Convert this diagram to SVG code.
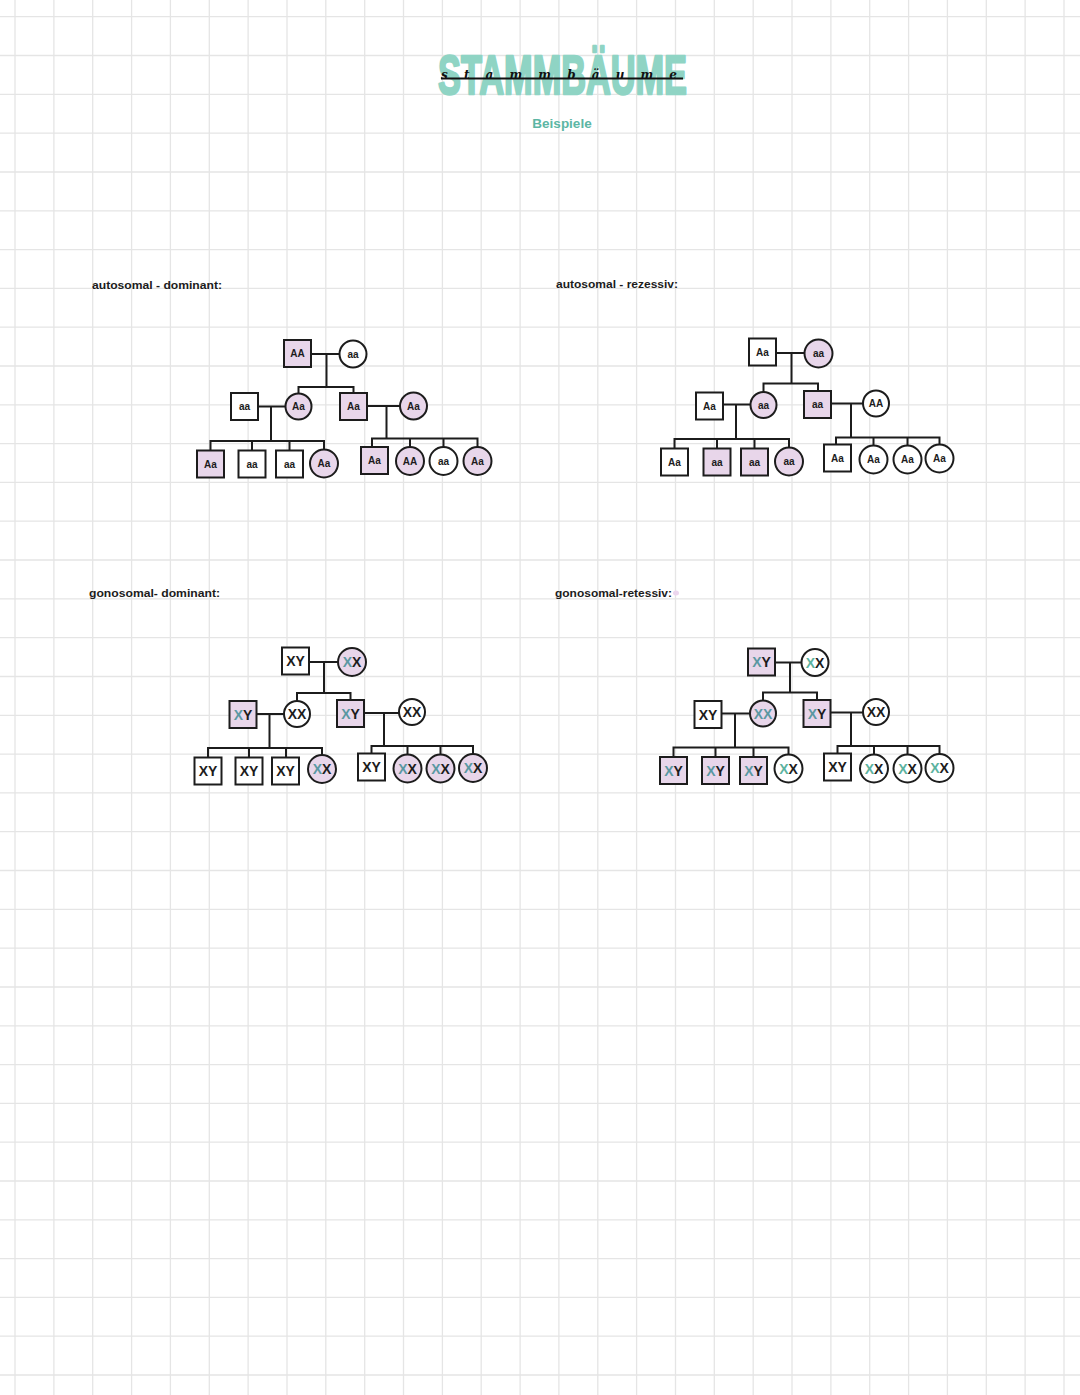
<svg xmlns="http://www.w3.org/2000/svg" width="1080" height="1395" viewBox="0 0 1080 1395">
<style>
.grid{stroke:#e5e5e5;stroke-width:1.3;fill:none}
.ln{stroke:#1c1c1c;stroke-width:2;fill:none;stroke-linecap:square}
.w{fill:#ffffff;stroke:#1c1c1c;stroke-width:2}
.p{fill:#e8d6ea;stroke:#1c1c1c;stroke-width:2}
.g{font-family:"Liberation Sans",Arial,sans-serif;font-size:10px;font-weight:bold;fill:#1c1c1c;text-anchor:middle}
.x{font-family:"Liberation Sans",Arial,sans-serif;font-size:14px;font-weight:bold;fill:#1c1c1c;text-anchor:middle}
.t1{fill:#5a98a2}
.t2{fill:#5cb39f}
.lab{font-family:"Liberation Sans",Arial,sans-serif;font-size:11px;font-weight:bold;fill:#1c1c1c}
</style>
<rect x="0" y="0" width="1080" height="1395" fill="#ffffff"/>
<path class="grid" d="M15,0V1395M53.9,0V1395M92.7,0V1395M131.6,0V1395M170.4,0V1395M209.3,0V1395M248.1,0V1395M287,0V1395M325.8,0V1395M364.7,0V1395M403.5,0V1395M442.4,0V1395M481.2,0V1395M520.1,0V1395M558.9,0V1395M597.8,0V1395M636.6,0V1395M675.5,0V1395M714.3,0V1395M753.2,0V1395M792,0V1395M830.9,0V1395M869.7,0V1395M908.6,0V1395M947.4,0V1395M986.3,0V1395M1025.1,0V1395M1064,0V1395
M0,16.7H1080M0,55.5H1080M0,94.3H1080M0,133.1H1080M0,172H1080M0,210.8H1080M0,249.6H1080M0,288.4H1080M0,327.2H1080M0,366H1080M0,404.8H1080M0,443.6H1080M0,482.4H1080M0,521.2H1080M0,560H1080M0,598.9H1080M0,637.7H1080M0,676.5H1080M0,715.3H1080M0,754.1H1080M0,792.9H1080M0,831.7H1080M0,870.5H1080M0,909.3H1080M0,948.1H1080M0,987H1080M0,1025.8H1080M0,1064.6H1080M0,1103.4H1080M0,1142.2H1080M0,1181H1080M0,1219.8H1080M0,1258.6H1080M0,1297.4H1080M0,1336.2H1080M0,1375H1080"/>

<g id="title">
<text x="438" y="94" textLength="249" lengthAdjust="spacingAndGlyphs" font-family="Liberation Sans, Arial, sans-serif" font-size="55" font-weight="bold" fill="#8fd4c4" stroke="#8fd4c4" stroke-width="2.5" stroke-linejoin="round">STAMMBÄUME</text>
<path d="M441,78.5 H683" stroke="#111" stroke-width="1.8" fill="none"/>
<text x="441" y="79" textLength="236" lengthAdjust="spacing" font-family="DejaVu Serif, serif" font-style="italic" font-weight="bold" font-size="12" fill="#111">stammbäume</text>
<text x="562" y="128" text-anchor="middle" font-family="Liberation Sans, Arial, sans-serif" font-size="13.5" font-weight="bold" fill="#5cb6a4">Beispiele</text>
</g>

<g id="labels">
<text class="lab" x="92" y="289" textLength="130" lengthAdjust="spacingAndGlyphs">autosomal - dominant:</text>
<text class="lab" x="556" y="288" textLength="122" lengthAdjust="spacingAndGlyphs">autosomal - rezessiv:</text>
<text class="lab" x="89" y="597" textLength="131" lengthAdjust="spacingAndGlyphs">gonosomal- dominant:</text>
<text class="lab" x="555" y="597" textLength="117" lengthAdjust="spacingAndGlyphs">gonosomal-retessiv:</text>
<ellipse cx="676" cy="593" rx="3" ry="2.5" fill="#ecd6ee"/>
</g>

<g id="connectors">
<path class="ln" d="M311,354H339.5M326.5,354V387M300,387H353.5M298.5,387V393.5M353.5,387V393"/>
<path class="ln" d="M258,406.5H285.5M271,406.5V441M210.5,441H324M210.5,441V450.5M252,441V450.5M289.5,441V450.5M324,441V449.5"/>
<path class="ln" d="M367,406H400M386.5,406V438.5M372,438.5H477.5M372,438.5V447M410,438.5V447M443.5,438.5V447M477.5,438.5V447"/>
<path class="ln" d="M776,353H804.5M791.5,353V383.5M763.5,383.5H818M763.5,383.5V392M818,383.5V391"/>
<path class="ln" d="M723,404.5H750.5M736,404.5V439M674.5,439H789M674.5,439V448.5M717,439V448.5M754.5,439V448.5M789,439V447.5"/>
<path class="ln" d="M831,403.5H863M851,403.5V437.5M836,437.5H939.5M836,437.5V444.5M873.5,437.5V445.5M907.5,437.5V445.5M939.5,437.5V444.5"/>
<path class="ln" d="M309,662H338M324,662V693M297,693H350.5M297,693V701M350.5,693V700"/>
<path class="ln" d="M256.5,714H284M269.5,714V748M208,748H322M208,748V757.5M249,748V757.5M286,748V757.5M322,748V755"/>
<path class="ln" d="M364,713H399M384,713V746M371.5,746H473M371.5,746V753.5M407.5,746V754.5M440.5,746V754.5M473,746V754"/>
<path class="ln" d="M775,662.5H801.5M790,662.5V692.5M763,692.5H817M763,692.5V700.5M817,692.5V700"/>
<path class="ln" d="M721.5,713.5H750M735,713.5V747.5M673.5,747.5H788.5M673.5,747.5V757M715.5,747.5V757M753.5,747.5V757M788.5,747.5V754.5"/>
<path class="ln" d="M830.5,712.5H863M851,712.5V746M837.5,746H939.5M837.5,746V753.5M874,746V754.5M907.5,746V754.5M939.5,746V754"/>
</g>

<g id="ad-g1m"><rect class="p" x="284" y="340" width="27" height="27"/><text class="g" x="297.5" y="357">AA</text></g>
<g id="ad-g1f"><circle class="w" cx="353" cy="354" r="13.5"/><text class="g" x="353" y="357.5">aa</text></g>
<g id="ad-g2m1"><rect class="w" x="231" y="393" width="27" height="27"/><text class="g" x="244.5" y="410">aa</text></g>
<g id="ad-g2f1"><circle class="p" cx="298.5" cy="406.5" r="13"/><text class="g" x="298.5" y="410">Aa</text></g>
<g id="ad-g2m2"><rect class="p" x="340" y="393" width="27" height="27"/><text class="g" x="353.5" y="410">Aa</text></g>
<g id="ad-g2f2"><circle class="p" cx="413.5" cy="406" r="13.5"/><text class="g" x="413.5" y="409.5">Aa</text></g>
<g id="ad-c1"><rect class="p" x="197" y="450.5" width="27" height="27"/><text class="g" x="210.5" y="467.5">Aa</text></g>
<g id="ad-c2"><rect class="w" x="238.5" y="450.5" width="27" height="27"/><text class="g" x="252" y="467.5">aa</text></g>
<g id="ad-c3"><rect class="w" x="276" y="450.5" width="27" height="27"/><text class="g" x="289.5" y="467.5">aa</text></g>
<g id="ad-c4"><circle class="p" cx="324" cy="463.5" r="14"/><text class="g" x="324" y="467">Aa</text></g>
<g id="ad-c5"><rect class="p" x="361" y="447" width="27" height="27"/><text class="g" x="374.5" y="464">Aa</text></g>
<g id="ad-c6"><circle class="p" cx="410" cy="461" r="14"/><text class="g" x="410" y="464.5">AA</text></g>
<g id="ad-c7"><circle class="w" cx="443.5" cy="461" r="14"/><text class="g" x="443.5" y="464.5">aa</text></g>
<g id="ad-c8"><circle class="p" cx="477.5" cy="461" r="14"/><text class="g" x="477.5" y="464.5">Aa</text></g>

<g id="ar-g1m"><rect class="w" x="749" y="338.5" width="27" height="27"/><text class="g" x="762.5" y="355.5">Aa</text></g>
<g id="ar-g1f"><circle class="p" cx="818.5" cy="353.5" r="14"/><text class="g" x="818.5" y="357">aa</text></g>
<g id="ar-g2m1"><rect class="w" x="696" y="392.5" width="27" height="27"/><text class="g" x="709.5" y="409.5">Aa</text></g>
<g id="ar-g2f1"><circle class="p" cx="763.5" cy="405" r="13"/><text class="g" x="763.5" y="408.5">aa</text></g>
<g id="ar-g2m2"><rect class="p" x="804" y="391" width="27" height="27"/><text class="g" x="817.5" y="408">aa</text></g>
<g id="ar-g2f2"><circle class="w" cx="876" cy="403.5" r="13"/><text class="g" x="876" y="407">AA</text></g>
<g id="ar-c1"><rect class="w" x="661" y="448.5" width="27" height="27"/><text class="g" x="674.5" y="465.5">Aa</text></g>
<g id="ar-c2"><rect class="p" x="703.5" y="448.5" width="27" height="27"/><text class="g" x="717" y="465.5">aa</text></g>
<g id="ar-c3"><rect class="p" x="741" y="448.5" width="27" height="27"/><text class="g" x="754.5" y="465.5">aa</text></g>
<g id="ar-c4"><circle class="p" cx="789" cy="461.5" r="14"/><text class="g" x="789" y="465">aa</text></g>
<g id="ar-c5"><rect class="w" x="824" y="444.5" width="27" height="27"/><text class="g" x="837.5" y="461.5">Aa</text></g>
<g id="ar-c6"><circle class="w" cx="873.5" cy="459.5" r="14"/><text class="g" x="873.5" y="463">Aa</text></g>
<g id="ar-c7"><circle class="w" cx="907.5" cy="459.5" r="14"/><text class="g" x="907.5" y="463">Aa</text></g>
<g id="ar-c8"><circle class="w" cx="939.5" cy="458.5" r="14"/><text class="g" x="939.5" y="462">Aa</text></g>

<g id="gd-g1m"><rect class="w" x="282" y="647.5" width="27" height="27"/><text class="x" x="295.5" y="666">XY</text></g>
<g id="gd-g1f"><circle class="p" cx="352" cy="662" r="14"/><text class="x" x="352" y="667"><tspan class="t1">X</tspan>X</text></g>
<g id="gd-g2m1"><rect class="p" x="229.5" y="701" width="27" height="27"/><text class="x" x="243" y="719.5"><tspan class="t1">X</tspan>Y</text></g>
<g id="gd-g2f1"><circle class="w" cx="297" cy="714" r="13"/><text class="x" x="297" y="719">XX</text></g>
<g id="gd-g2m2"><rect class="p" x="337" y="700" width="27" height="27"/><text class="x" x="350.5" y="718.5"><tspan class="t1">X</tspan>Y</text></g>
<g id="gd-g2f2"><circle class="w" cx="412" cy="712" r="13"/><text class="x" x="412" y="717">XX</text></g>
<g id="gd-c1"><rect class="w" x="194.5" y="757.5" width="27" height="27"/><text class="x" x="208" y="776">XY</text></g>
<g id="gd-c2"><rect class="w" x="235.5" y="757.5" width="27" height="27"/><text class="x" x="249" y="776">XY</text></g>
<g id="gd-c3"><rect class="w" x="272" y="757.5" width="27" height="27"/><text class="x" x="285.5" y="776">XY</text></g>
<g id="gd-c4"><circle class="p" cx="322" cy="769" r="14"/><text class="x" x="322" y="774"><tspan class="t1">X</tspan>X</text></g>
<g id="gd-c5"><rect class="w" x="358" y="753.5" width="27" height="27"/><text class="x" x="371.5" y="772">XY</text></g>
<g id="gd-c6"><circle class="p" cx="407.5" cy="768.5" r="14"/><text class="x" x="407.5" y="773.5"><tspan class="t1">X</tspan>X</text></g>
<g id="gd-c7"><circle class="p" cx="440.5" cy="768.5" r="14"/><text class="x" x="440.5" y="773.5"><tspan class="t1">X</tspan>X</text></g>
<g id="gd-c8"><circle class="p" cx="473" cy="768" r="14"/><text class="x" x="473" y="773"><tspan class="t1">X</tspan>X</text></g>

<g id="gr-g1m"><rect class="p" x="748" y="648.5" width="27" height="27"/><text class="x" x="761.5" y="667"><tspan class="t1">X</tspan>Y</text></g>
<g id="gr-g1f"><circle class="w" cx="815" cy="662.5" r="13.5"/><text class="x" x="815" y="667.5"><tspan class="t2">X</tspan>X</text></g>
<g id="gr-g2m1"><rect class="w" x="694.5" y="701" width="27" height="27"/><text class="x" x="708" y="719.5">XY</text></g>
<g id="gr-g2f1"><circle class="p" cx="763" cy="713.5" r="13"/><text class="x t1" x="763" y="718.5">XX</text></g>
<g id="gr-g2m2"><rect class="p" x="803.5" y="700" width="27" height="27"/><text class="x" x="817" y="718.5"><tspan class="t1">X</tspan>Y</text></g>
<g id="gr-g2f2"><circle class="w" cx="876" cy="712" r="13"/><text class="x" x="876" y="717">XX</text></g>
<g id="gr-c1"><rect class="p" x="660" y="757" width="27" height="27"/><text class="x" x="673.5" y="775.5"><tspan class="t1">X</tspan>Y</text></g>
<g id="gr-c2"><rect class="p" x="702" y="757" width="27" height="27"/><text class="x" x="715.5" y="775.5"><tspan class="t1">X</tspan>Y</text></g>
<g id="gr-c3"><rect class="p" x="740" y="757" width="27" height="27"/><text class="x" x="753.5" y="775.5"><tspan class="t1">X</tspan>Y</text></g>
<g id="gr-c4"><circle class="w" cx="788.5" cy="768.5" r="14"/><text class="x" x="788.5" y="773.5"><tspan class="t2">X</tspan>X</text></g>
<g id="gr-c5"><rect class="w" x="824" y="753.5" width="27" height="27"/><text class="x" x="837.5" y="772">XY</text></g>
<g id="gr-c6"><circle class="w" cx="874" cy="768.5" r="14"/><text class="x" x="874" y="773.5"><tspan class="t2">X</tspan>X</text></g>
<g id="gr-c7"><circle class="w" cx="907.5" cy="768.5" r="14"/><text class="x" x="907.5" y="773.5"><tspan class="t2">X</tspan>X</text></g>
<g id="gr-c8"><circle class="w" cx="939.5" cy="768" r="14"/><text class="x" x="939.5" y="773"><tspan class="t2">X</tspan>X</text></g>
</svg>
